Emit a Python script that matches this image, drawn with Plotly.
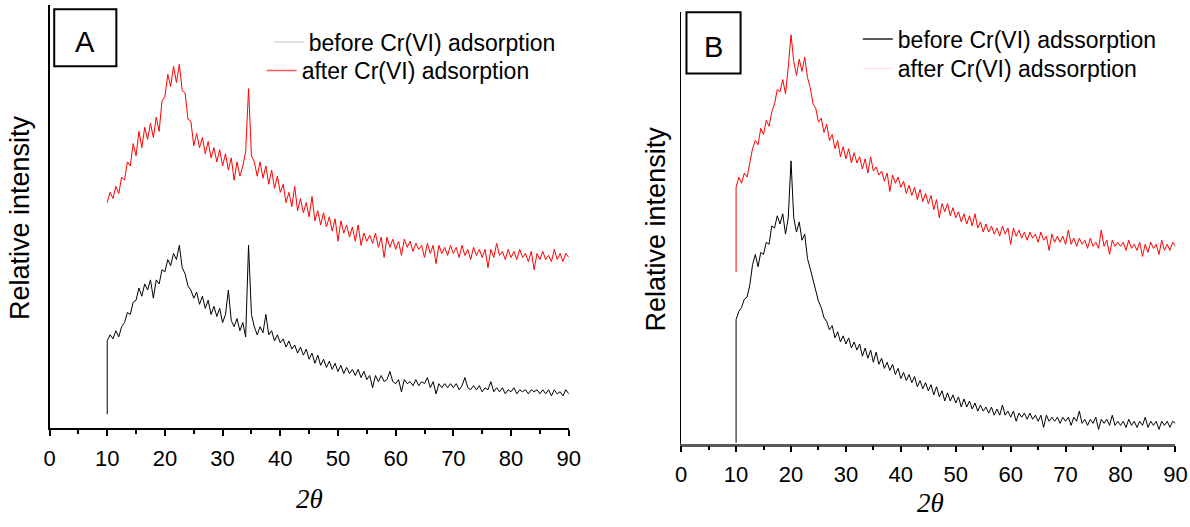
import plotly.graph_objects as go

# scan angles (2θ), 0.5° sampling
two_theta = [10 + 0.5 * i for i in range(161)]

# ---------- Panel A ----------
a_after = [
    222,232,226,238,231,247,244,262,258,280,
    268,292,276,296,284,300,286,306,292,322,
    326,348,336,356,340,358,332,330,304,302,
    278,290,276,286,270,282,266,276,262,274,
    258,270,254,266,244,262,248,258,272,334,
    268,262,248,262,246,258,240,254,236,248,
    232,240,222,232,218,238,214,226,212,222,
    208,228,204,214,200,212,198,208,194,206,
    184,204,192,200,188,198,184,200,180,192,
    184,190,182,192,178,188,168,188,178,186,
    176,184,170,186,178,184,174,182,176,180,
    168,182,172,180,162,180,172,178,170,180,
    172,178,168,180,170,176,166,178,170,176,
    168,176,158,176,168,182,170,174,166,176,
    168,174,166,176,168,172,164,174,156,172,
    166,174,166,170,164,176,166,172,164,172,
    168]
a_before_start = 14
a_before = [
    86,92,88,96,90,100,104,114,112,124,
    126,138,130,142,136,146,128,146,142,156,
    154,166,160,172,166,180,158,152,140,136,
    128,134,122,130,118,126,112,120,110,118,
    104,112,136,106,100,108,96,104,90,180,
    112,100,92,100,94,112,92,96,86,92,
    84,88,80,86,78,82,74,80,72,78,
    68,74,64,72,62,68,60,66,58,64,
    56,62,54,60,54,58,52,58,50,56,
    48,52,40,52,46,52,46,48,56,46,
    44,48,36,48,44,46,42,48,42,46,
    44,50,40,46,34,44,40,44,40,44,
    40,44,38,42,50,40,38,42,38,42,
    36,40,38,46,36,40,36,40,34,38,
    36,40,34,38,36,38,34,38,36,38,
    34,38,34,38,32,38,34,36,32,38,
    34]

# ---------- Panel B ----------
b_after_start = 169
b_after = [
    252,262,256,266,262,276,290,298,294,310,
    304,318,312,326,334,348,346,358,344,370,
    402,376,362,378,366,380,360,350,334,330,
    316,320,306,314,298,304,290,298,282,292,
    280,290,276,286,276,282,270,280,266,282,
    268,272,264,268,258,266,248,264,256,262,
    252,258,246,254,244,252,240,250,238,246,
    236,244,230,240,222,236,228,236,224,232,
    222,228,218,226,216,224,214,226,212,218,
    208,216,208,214,206,212,204,214,206,212,
    196,212,204,210,202,208,200,208,202,206,
    198,208,200,204,190,206,198,204,198,204,
    196,210,196,202,194,202,196,200,192,202,
    194,198,192,210,194,200,186,200,194,198,
    194,198,190,200,192,196,190,198,184,196,
    188,198,192,196,186,200,190,196,190,198,
    194]
b_before_start = 1
b_before = [
    122,130,134,142,144,156,176,186,174,188,
    186,198,196,214,212,224,216,226,206,222,
    278,222,208,218,200,206,182,172,162,150,
    140,134,124,120,112,116,104,110,100,106,
    98,104,94,100,92,98,86,94,84,92,
    80,90,78,84,74,80,72,78,68,74,
    64,70,62,68,60,66,56,62,54,60,
    52,58,48,56,46,52,42,50,42,48,
    40,46,36,44,36,42,34,40,32,38,
    32,36,30,36,28,34,28,38,28,32,
    26,32,22,30,26,30,24,30,24,28,
    22,28,16,28,22,26,22,26,20,26,
    22,26,18,26,22,32,20,24,18,24,
    20,26,14,24,20,24,18,28,18,22,
    18,22,16,24,18,22,16,22,18,26,
    16,22,18,22,14,22,18,22,16,22,
    20]

x_ticks = [0, 10, 20, 30, 40, 50, 60, 70, 80, 90]
labels_a = ["before Cr(VI) adsorption", "after Cr(VI) adsorption"]
labels_b = ["before Cr(VI) adssorption", "after Cr(VI) adssorption"]

FONT = "Liberation Sans, Arial, sans-serif"
SERIF = "Liberation Serif, Times New Roman, serif"

# Page geometry: the body keeps its default 8px margin; S is the measured
# ratio between picture pixels and page pixels.
PAGE_W, PAGE_H, BODY, S = 1190, 527, 8, 0.983
W = round(PAGE_W / S - 2 * BODY)
H = round(PAGE_H / S - 2 * BODY)


def px(x):
    return (x / S - BODY) / W


def py(y):
    return 1 - (y / S - BODY) / H


fig = go.Figure()

# Panel A traces
fig.add_trace(go.Scatter(x=[10.0] + two_theta, y=[a_before_start] + a_before,
                         mode="lines", line=dict(color="black", width=1),
                         xaxis="x", yaxis="y", showlegend=False))
fig.add_trace(go.Scatter(x=two_theta, y=a_after, mode="lines",
                         line=dict(color="#ff0000", width=1),
                         xaxis="x", yaxis="y", showlegend=False))
# Panel B traces
fig.add_trace(go.Scatter(x=[10.0] + two_theta, y=[b_after_start] + b_after,
                         mode="lines", line=dict(color="#ff0000", width=1),
                         xaxis="x2", yaxis="y2", showlegend=False))
fig.add_trace(go.Scatter(x=[10.0] + two_theta, y=[b_before_start] + b_before,
                         mode="lines", line=dict(color="black", width=1),
                         xaxis="x2", yaxis="y2", showlegend=False))

# legend entries (faded samples as in the original figure)
legend_items = [
    (labels_a[0], "#d6d6d6", "legend", "x", "y"),
    (labels_a[1], "#ff5a5a", "legend2", "x", "y"),
    (labels_b[0], "#222222", "legend3", "x2", "y2"),
    (labels_b[1], "#ffe4e4", "legend4", "x2", "y2"),
]
for name, col, leg, xa, ya in legend_items:
    fig.add_trace(go.Scatter(x=[None], y=[None], mode="lines", name=name,
                             line=dict(color=col, width=1.5), legend=leg,
                             xaxis=xa, yaxis=ya))

xaxis_common = dict(range=[0, 90], tickvals=x_ticks, ticks="outside", ticklen=6,
                    tickwidth=1.5, tickcolor="black", showgrid=False, zeroline=False,
                    ticklabelstandoff=3,
                    tickfont=dict(family=FONT, size=22, color="black"),
                    minor=dict(dtick=5, ticks="outside", ticklen=4, tickwidth=1.5,
                               tickcolor="black", showgrid=False),
                    fixedrange=True)


def legend_at(x, y):
    return dict(x=px(x), y=py(y), xanchor="left", yanchor="top",
                bgcolor="rgba(0,0,0,0)", font=dict(family=FONT, size=23, color="black"),
                itemwidth=30)


fig.update_layout(
    width=W, height=H,
    margin=dict(l=0, r=0, t=0, b=0),
    paper_bgcolor="white", plot_bgcolor="white",
    xaxis=dict(domain=[px(51.3), px(569.5)], anchor="y", showline=True,
               linecolor="black", linewidth=2, **xaxis_common),
    yaxis=dict(domain=[py(429), py(13)], anchor="x", range=[0, 416], showline=True,
               linecolor="black", linewidth=2, showticklabels=False, ticks="",
               showgrid=False, zeroline=False),
    xaxis2=dict(domain=[px(681.7), px(1175)], anchor="y2", showline=True,
                linecolor="#5a5a5a", linewidth=2.5, **xaxis_common),
    yaxis2=dict(domain=[py(444), py(20)], anchor="x2", range=[0, 424], showline=True,
                linecolor="black", linewidth=1, showticklabels=False, ticks="",
                showgrid=False, zeroline=False),
    legend=legend_at(270, 28),
    legend2=legend_at(263, 56),
    legend3=legend_at(858, 25),
    legend4=legend_at(858, 54),
    shapes=[
        dict(type="rect", xref="paper", yref="paper", x0=px(56), x1=px(118),
             y0=py(73), y1=py(17), line=dict(color="black", width=2)),
        dict(type="rect", xref="paper", yref="paper", x0=px(687), x1=px(741),
             y0=py(80), y1=py(20), line=dict(color="black", width=2)),
    ],
    annotations=[
        dict(text="A", x=px(87), y=py(49), xref="paper", yref="paper",
             xanchor="center", yanchor="middle",
             showarrow=False, font=dict(family=FONT, size=29, color="black")),
        dict(text="B", x=px(714), y=py(54), xref="paper", yref="paper",
             xanchor="center", yanchor="middle",
             showarrow=False, font=dict(family=FONT, size=29, color="black")),
        dict(text="Relative intensity", x=px(22), y=py(222), xref="paper", yref="paper",
             xanchor="center", yanchor="middle",
             textangle=-90, showarrow=False, font=dict(family=FONT, size=27, color="black")),
        dict(text="Relative intensity", x=px(657), y=py(233), xref="paper", yref="paper",
             xanchor="center", yanchor="middle",
             textangle=-90, showarrow=False, font=dict(family=FONT, size=27, color="black")),
        dict(text="<i>2θ</i>", x=px(311), y=py(498), xref="paper", yref="paper",
             xanchor="center", yanchor="middle",
             showarrow=False, font=dict(family=SERIF, size=27, color="black")),
        dict(text="<i>2θ</i>", x=px(931), y=0, xref="paper", yref="paper",
             xanchor="center", yanchor="bottom",
             showarrow=False, font=dict(family=SERIF, size=27, color="black")),
    ],
)

fig.write_html("out.html")
